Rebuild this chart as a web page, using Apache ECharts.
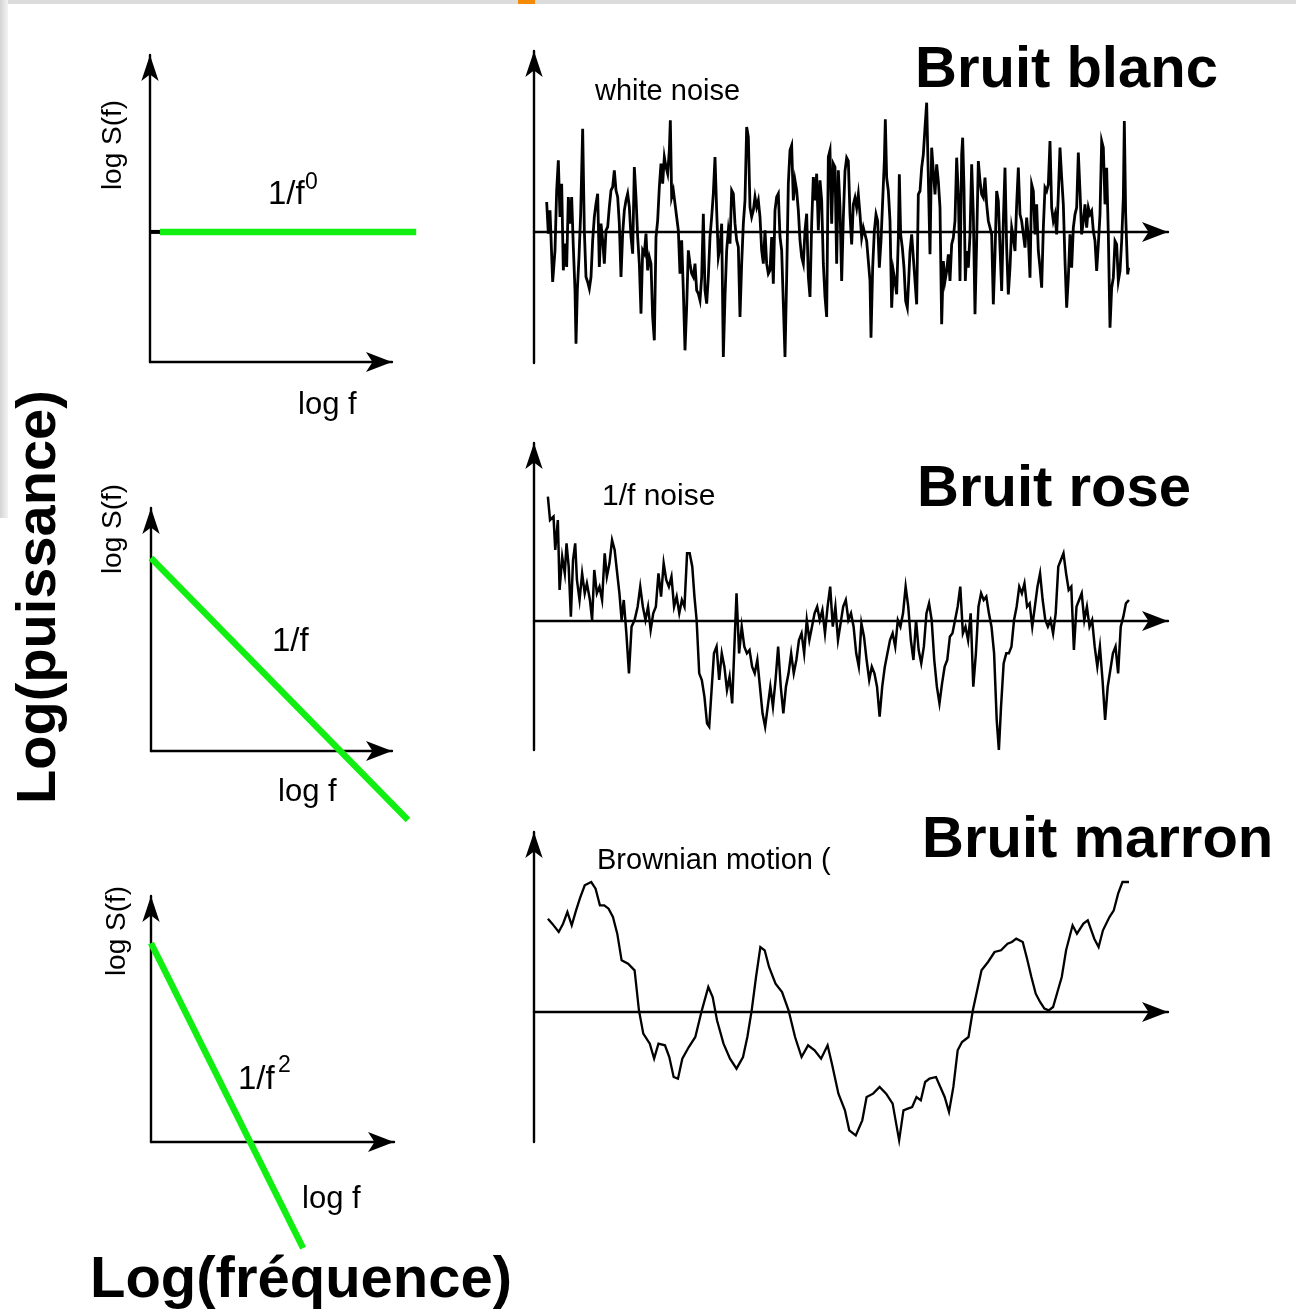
<!DOCTYPE html>
<html lang="fr">
<head>
    <meta charset="UTF-8">
    <title>Bruit blanc, rose, marron</title>
    <script src="https://cdn.jsdelivr.net/npm/echarts@6/dist/echarts.min.js"></script>
    <style>
        html, body { margin: 0; padding: 0; background: #fff; }
        #chart { width: 1296px; height: 1312px; }
    </style>
</head>
<body>
<div id="chart"></div>

<script>
    var spec0F = [0.39, 10.4];
    var spec0S = [5.08, 5.08];
    var spec1F = [0, 10.04];
    var spec1S = [7.54, -2.7];
    var spec2F = [0, 5.94];
    var spec2S = [7.77, -4.14];

    // bruit blanc : temps / amplitude
    var whiteT = [38,43,48,56,63,68,73,78,83,88,93,98,103,108,113,118,123,126,130,135,140,146,151,156,161,166,171,176,181,186,191,196,201,206,211,216,221,226,231,236,241,246,251,256,261,266,271,276,281,286,291,296,301,306,311,316,321,326,331,336,341,346,351,356,361,366,371,376,381,386,391,396,401,406,409,413,418,423,428,433,438,443,448,453,458,463,468,473,478,483,488,493,498,503,508,513,518,523,528,533,538,543,548,553,558,563,568,573,578,583,588,593,598,603,608,613,618,623,628,633,638,643,648,653,658,663,668,673,678,683,688,693,698,703,708,713,718,723,728,733,738,743,748,753,758,763,768,773,778,783,788,793,798,803,808,813,818,823,828,833,838,843,848,853,858,863,868,873,878,883,888,893,898,903,908,913,918,
        923,928,933,938,943,948,953,958,963,968,973,978,983,988,993,998,1003,1008,1011,1016,1021,1026,1031,1036,1041,1046,1051,1054,1058,1063,1068,1073,1078,1083,1088,1093,1096,1100,1105,1110,1115,1120,1124,1128,1133,1138,1143,1148,1153,1158,1163,1168,1173,1178,1183,1188,1193,1198,1203,1208,1213,1218,1223,1228,1233,1238,1243,1248,1253,1258,1263,1268,1273,1278,1283,1286,1290,1294,1298,1303,1308,1313,1318,1323,1328,1333,1338,1343,1348,1353,1358,1363,1368,1373,1378,1383,1388,1393,1398,1403,1408,1413,1418,1423,1428,1433,1438,1443,1448,1453,1458,1463,1468,1473,1478,1483,1488,1493,1498,1503,1508,1513,1518,1523,1528,1533,1538,1543,1548,1553,1558,1563,1568,1573,1578,1583,1588,1593,1598,1603,1608,1613,1618,1623,1628,1633,1638,1643,1648,1653,1658,1663,1668,1673,1678,1683,1688,1693,1698,1703,1708,1713,1718,1723,1728,1733,1738,1743,1748,1753,1758,1763,1768,1771,1775,1778,1781,1784];
    var whiteV = [90,-5,65,-150,-55,125,215,45,145,-115,-35,-105,105,25,105,-45,-175,-335,-175,-75,55,310,5,-135,-150,-170,-135,-25,45,85,115,-105,25,-25,-95,5,15,75,125,135,185,125,105,25,-135,-5,65,95,115,75,-15,-65,195,105,-15,-95,-245,-55,-65,-5,-115,-75,-95,-255,-325,-15,35,135,205,145,225,195,175,245,335,105,125,85,45,5,-125,-25,-175,-355,-225,-55,-95,-125,-135,-95,-175,-185,-205,-135,55,-175,-215,-135,-15,45,115,225,65,-75,-45,25,-375,-195,-55,5,-35,125,115,25,-25,-45,-255,-95,25,95,315,285,75,45,65,105,75,95,45,-55,-95,5,-95,-125,-115,-15,-155,65,105,115,-15,-55,-215,-375,-135,145,245,260,95,155,125,65,-25,-75,-95,5,55,-135,-195,25,165,95,175,5,155,95,-95,-195,-255,225,245,25,205,195,-95,185,75,
        -147,43,183,223,213,53,-37,83,103,73,113,53,-17,13,-7,-27,-87,-147,-317,-107,3,53,33,-107,-27,93,213,338,163,123,33,-227,-117,-147,-187,-17,173,-7,-47,-107,-207,-227,-147,-57,-7,-7,-147,-217,113,123,193,233,313,388,163,-67,253,183,113,203,153,73,-277,-87,-147,-117,-67,-147,-37,-17,33,223,113,-147,233,283,133,-147,-57,-107,-7,203,53,-247,-27,213,153,113,103,163,83,33,13,-7,-217,-67,123,93,-47,-177,33,193,-47,-187,-107,13,-17,-57,83,193,53,33,-7,-47,43,-17,-137,143,123,-7,83,-57,-107,-167,13,133,123,143,273,73,33,53,-7,113,253,163,83,-87,-227,-137,-7,-107,13,53,73,238,123,-7,33,83,13,73,53,63,3,-27,-117,-37,53,273,253,83,193,-7,-287,-167,-137,-27,-37,-147,-117,-27,103,333,53,-37,-127,-107];

    // bruit rose (1/f)
    var pinkT = [65,70,78,82,88,92,98,104,108,113,118,123,128,132,138,144,150,155,162,167,172,178,184,190,196,201,207,213,219,224,230,235,240,246,252,258,265,272,278,284,290,296,302,308,314,320,326,332,338,344,350,356,362,368,374,380,386,392,398,403,408,414,420,426,432,437,442,448,454,460,466,472,478,484,490,496,500,506,512,518,524,530,536,542,548,554,560,566,572,578,584,590,596,602,608,614,620,626,632,638,644,650,656,662,668,674,680,686,692,698,704,710,716,722,728,734,740,746,752,758,764,770,776,782,788,794,800,806,812,818,824,830,836,842,848,854,860,866,872,878,884,890,896,902,908,914,920,926,932,938,944,950,956,962,968,974,980,986,992,998,1004,1010,1016,1022,1028,1034,1040,1046,1052,1058,1064,1070,1076,1082,1088,1094,1100,1105,1110,1116,1122,1128,1134,1140,1146,1152,1158,1164,1170,1176,1182,1188,1194,1200,1206,1212,1218,1224,1230,1236,1242,1248,1254,1260,1266,1272,1278,1284,1290,1296,1302,1308,1314,1320,1326,1332,1338,1344,1350,1356,1362,1368,1374,1380,1386,1392,1398,1405];
    var pinkV = [373,303,313,213,303,93,193,143,233,163,13,183,233,123,63,143,83,113,63,3,153,83,103,63,203,133,173,243,213,153,83,3,63,-37,-157,-17,3,43,103,43,3,43,-27,23,43,143,73,173,123,103,133,43,73,23,63,43,203,203,163,73,3,-157,-177,-227,-307,-317,-217,-97,-77,-177,-97,-137,-207,-167,-247,-47,83,-97,-17,-77,-97,-87,-137,-157,-117,-197,-277,-317,-257,-197,-257,-177,-77,-197,-277,-197,-157,-97,-157,-117,-57,-37,-97,3,-57,-17,23,43,3,33,-37,43,103,-17,43,-57,-7,43,63,3,23,-17,-97,-137,-7,-47,-117,-177,-137,-157,-197,-287,-197,-137,-97,-57,-37,-77,3,-17,23,103,43,-57,-117,3,-87,-127,-77,23,53,3,-117,-197,-247,-187,-137,-117,-47,-37,3,43,103,-37,-17,-57,23,-197,-97,43,83,63,73,23,-17,-97,-297,-387,-257,-127,-97,-97,-77,3,43,103,83,113,43,53,-17,43,103,143,63,3,-17,3,-37,23,163,183,203,143,93,103,-87,43,63,83,3,43,-17,3,-77,-137,-77,-177,-297,-197,-147,-97,-77,-157,-17,13,53,63];

    // mouvement brownien (1/f^2)
    var brownT = [65,75,90,100,110,120,130,140,150,165,175,185,195,205,215,225,235,250,265,275,285,300,310,320,335,345,355,365,375,390,405,420,435,445,455,470,485,500,515,525,535,545,555,565,575,590,605,620,635,650,665,680,695,710,720,735,750,760,775,790,800,815,830,845,860,875,885,895,905,915,925,935,945,960,970,980,990,1000,1010,1020,1035,1045,1055,1065,1080,1095,1110,1125,1135,1145,1160,1170,1180,1190,1200,1210,1220,1230,1240,1250,1260,1275,1285,1300,1310,1325,1335,1345,1360,1370,1380,1390,1405];
    var brownV = [280,265,240,265,300,260,305,345,380,390,370,320,320,310,285,235,155,145,125,5,-65,-95,-140,-95,-100,-135,-195,-200,-140,-105,-75,5,75,45,-25,-95,-140,-170,-135,-75,5,105,195,185,135,85,60,5,-75,-135,-100,-115,-140,-100,-155,-245,-295,-355,-370,-325,-255,-245,-225,-245,-275,-385,-295,-290,-285,-255,-265,-210,-200,-195,-225,-255,-300,-225,-115,-90,-75,5,65,125,150,180,185,205,210,220,210,160,105,55,30,10,5,15,60,105,185,260,235,265,275,220,195,245,285,305,355,390,390];

    function pairs(xs, ys) {
        var out = [];
        for (var i = 0; i < xs.length; i++) out.push([xs[i], ys[i]]);
        return out;
    }

    var FONT = '"Liberation Sans", Arial, sans-serif';
    var chart = echarts.init(document.getElementById('chart'), null, {renderer: 'canvas'});

    // 0-2 : axes des spectres, 3-5 : signaux, 6-8 : calques des droites vertes (sans axes)
    var grids = [
        {left: 150, top: 55, width: 242, height: 307},
        {left: 151, top: 508, width: 241, height: 243},
        {left: 151, top: 896, width: 243, height: 246},
        {left: 534, top: 51, width: 634, height: 312},
        {left: 534, top: 443, width: 634, height: 307},
        {left: 534, top: 832, width: 634, height: 310},
        {left: 150, top: 55, width: 300, height: 307},
        {left: 151, top: 508, width: 300, height: 320},
        {left: 151, top: 896, width: 243, height: 380}
    ];
    var xRanges = [[0, 9.45], [0, 9.41], [0, 9.49], [0, 1902], [33, 1495], [33, 1495],
        [0, 11.72], [0, 11.72], [0, 9.49]];
    var yRanges = [[0, 11.99], [0, 9.49], [0, 9.61], [-393, 543], [-387, 534], [-390, 540],
        [0, 11.99], [-3.01, 9.49], [-5.23, 9.61]];

    function axisLine(show, w, h) {
        return {
            show: show, onZero: true,
            symbol: ['none', 'arrow'], symbolSize: [w, h],
            lineStyle: {color: '#000', width: 2.4}
        };
    }

    var xAxes = [], yAxes = [];
    for (var i = 0; i < grids.length; i++) {
        var visible = i < 6;
        xAxes.push({
            type: 'value', gridIndex: i, min: xRanges[i][0], max: xRanges[i][1],
            axisLine: axisLine(visible, 15, 26),
            axisTick: {show: false}, axisLabel: {show: false}, splitLine: {show: false}
        });
        yAxes.push({
            type: 'value', gridIndex: i, min: yRanges[i][0], max: yRanges[i][1],
            axisLine: axisLine(visible, 13, 26),
            axisTick: {show: false}, axisLabel: {show: false}, splitLine: {show: false}
        });
    }

    var GREEN = '#11ee11';
    function greenLine(idx, xs, ys) {
        return {
            type: 'line', xAxisIndex: idx, yAxisIndex: idx, data: pairs(xs, ys),
            showSymbol: false, z: 5,
            lineStyle: {color: GREEN, width: 6.5, cap: 'butt'}
        };
    }
    function signal(idx, xs, ys, w) {
        return {
            type: 'line', xAxisIndex: idx, yAxisIndex: idx, data: pairs(xs, ys),
            showSymbol: false, clip: false,
            lineStyle: {color: '#000', width: w, join: 'miter'}
        };
    }

    var series = [
        {
            type: 'line', xAxisIndex: 0, yAxisIndex: 0, data: [[0, 5.08], [0.39, 5.08]],
            showSymbol: false, lineStyle: {color: '#000', width: 4}
        },
        greenLine(6, spec0F, spec0S),
        greenLine(7, spec1F, spec1S),
        greenLine(8, spec2F, spec2S),
        signal(3, whiteT, whiteV, 2.8),
        signal(4, pinkT, pinkV, 2.5),
        signal(5, brownT, brownV, 2.3)
    ];

    function label(text, x, y, size, opts) {
        opts = opts || {};
        return {
            type: 'text', x: x, y: y, rotation: opts.rot || 0, z: 100,
            style: {
                text: text,
                font: (opts.bold ? 'bold ' : '') + size + 'px ' + FONT,
                fill: '#000',
                textAlign: opts.align || 'left', align: opts.align || 'left',
                textVerticalAlign: 'middle', verticalAlign: 'middle'
            }
        };
    }

    var graphics = [
        // bordures grises de la diapo
        {type: 'rect', shape: {x: 0, y: 0, width: 1296, height: 4}, style: {fill: '#dcdcdc'}, z: 0},
        {type: 'rect', shape: {x: 518, y: 0, width: 17, height: 4}, style: {fill: '#f58a07'}, z: 1},
        {
            type: 'rect', shape: {x: 0, y: 0, width: 8, height: 518}, z: 0,
            style: {fill: new echarts.graphic.LinearGradient(0, 0, 1, 0, [
                {offset: 0, color: '#d4d4d4'}, {offset: 1, color: '#f3f3f3'}])}
        },

        // panneaux de gauche
        label('log S(f)', 113, 145, 28, {rot: Math.PI / 2, align: 'center'}),
        label('1/f', 268, 195, 33),
        label('0', 305, 183, 23),
        label('log f', 298, 405, 31),
        label('log S(f)', 113, 529, 28, {rot: Math.PI / 2, align: 'center'}),
        label('1/f', 272, 642, 33),
        label('log f', 278, 792, 31),
        label('log S(f)', 117, 931, 28, {rot: Math.PI / 2, align: 'center'}),
        label('1/f', 238, 1080, 33),
        label('2', 278, 1066, 23),
        label('log f', 302, 1199, 31),

        // panneaux de droite
        label('white noise', 595, 92, 29),
        label('1/f noise', 602, 497, 30),
        label('Brownian motion (', 597, 861, 29),

        // titres
        label('Bruit blanc', 915, 71, 58, {bold: true}),
        label('Bruit rose', 917, 490, 58, {bold: true}),
        label('Bruit marron', 922, 841, 58, {bold: true}),
        label('Log(puissance)', 40, 597, 56, {bold: true, rot: Math.PI / 2, align: 'center'}),
        label('Log(fréquence)', 90, 1281, 58, {bold: true})
    ];

    chart.setOption({
        animation: false,
        backgroundColor: '#fff',
        grid: grids,
        xAxis: xAxes,
        yAxis: yAxes,
        series: series,
        graphic: graphics
    });
</script>
</body>
</html>
